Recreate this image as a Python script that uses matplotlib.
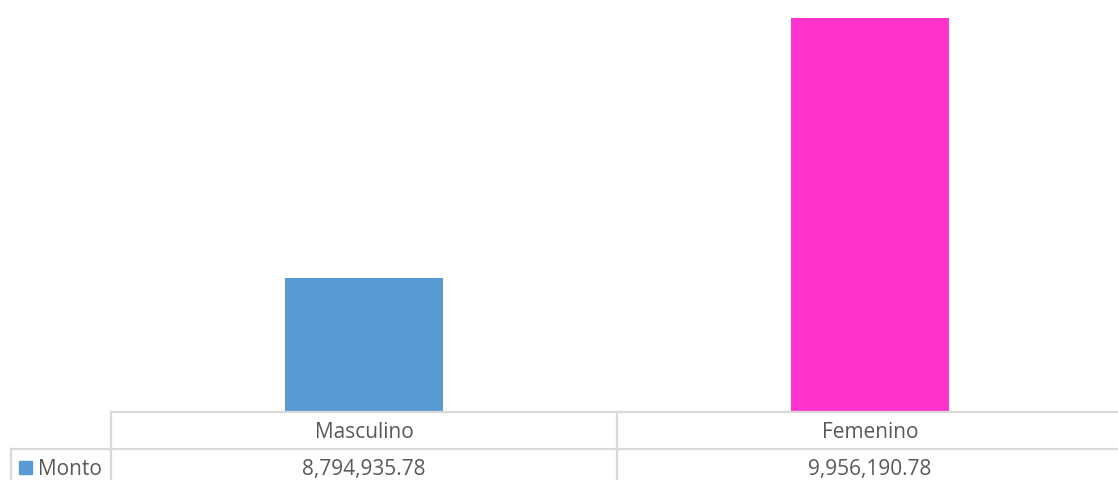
import matplotlib.pyplot as plt
import matplotlib.transforms as mtransforms
from matplotlib.lines import Line2D
from matplotlib.patches import Rectangle

categories = ["Masculino", "Femenino"]
values = [8794935.78, 9956190.78]
bar_colors = ["#5b9bd5", "#ff33cc"]
series_name = "Monto"
value_labels = ["8,794,935.78", "9,956,190.78"]

W, H = 1118, 480
fig = plt.figure(figsize=(W / 100, H / 100), dpi=100)

# plot area spans the table columns (right edge runs slightly past the figure)
left_px, right_px = 111, 1123
top_px, base_px = 7.7, 411.5
ax = fig.add_axes([left_px / W, 1 - base_px / H,
                   (right_px - left_px) / W, (base_px - top_px) / H])

x = list(range(len(categories)))
ax.bar(x, values, width=0.314, color=bar_colors, zorder=2)
ax.set_xlim(-0.5, len(categories) - 0.5)
ax.set_ylim(8200000, 10000000)
ax.axis("off")

grid = "#d9d9d9"
txt = "#595959"
font = "Open Sans"
fsize = 15


def px(xp, yp):
    return xp / W, 1 - yp / H


def hline(y, x0, x1):
    fig.add_artist(Line2D([x0 / W, x1 / W], [1 - y / H, 1 - y / H],
                          color=grid, lw=1.6, transform=fig.transFigure))


def vline(xp, y0, y1):
    fig.add_artist(Line2D([xp / W, xp / W], [1 - y0 / H, 1 - y1 / H],
                          color=grid, lw=1.6, transform=fig.transFigure))


# data table grid
hline(412, left_px, W + 5)
hline(449, 11, W + 5)
vline(11, 449, H + 5)
vline(left_px, 412, H + 5)
vline((left_px + right_px) / 2, 412, H + 5)

# category and value rows, centred on the bars through the x scale
trans = mtransforms.blended_transform_factory(ax.transData, fig.transFigure)
for xi, cat, lab in zip(x, categories, value_labels):
    ax.text(xi, 1 - 432.5 / H, cat, transform=trans, ha="center", va="center",
            fontsize=fsize, color=txt, family=font, clip_on=False)
    ax.text(xi, 1 - 469.5 / H, lab, transform=trans, ha="center", va="center",
            fontsize=fsize, color=txt, family=font, clip_on=False)

# legend key
fig.add_artist(Rectangle(px(19, 474), 13 / W, 13 / H, color=bar_colors[0],
                         transform=fig.transFigure))
fig.text(*px(38, 469.5), series_name, ha="left", va="center", fontsize=fsize,
         color=txt, family=font)

fig.savefig("out.png", dpi=100, facecolor="white")
